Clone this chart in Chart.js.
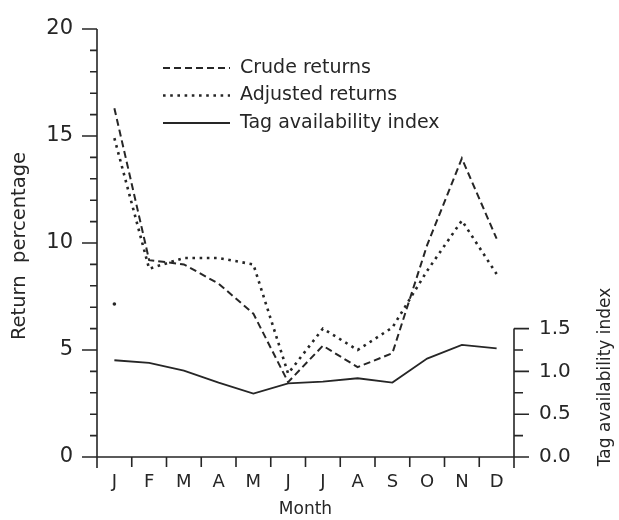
<!DOCTYPE html>
<html>
<head>
<meta charset="utf-8">
<script src="https://cdn.jsdelivr.net/npm/chart.js@4"></script>
<style>
  html, body { margin: 0; padding: 0; background: #fff; }
  #wrap { width: 619px; height: 520px; }
</style>
</head>
<body>
<div id="wrap"><canvas id="chart"></canvas></div>
<script>
// values
const months = ['J', 'F', 'M', 'A', 'M', 'J', 'J', 'A', 'S', 'O', 'N', 'D'];
const crudeReturns = [16.3, 9.2, 9.0, 8.1, 6.7, 3.5, 5.2, 4.2, 4.85, 9.9, 13.95, 10.2];
const adjustedReturns = [14.9, 8.8, 9.3, 9.3, 9.0, 3.9, 6.0, 5.0, 6.05, 8.7, 11.05, 8.55];
const tagIndex = [1.13, 1.10, 1.01, 0.87, 0.74, 0.86, 0.88, 0.92, 0.87, 1.15, 1.31, 1.27];
const strayDot = [7.15, null, null, null, null, null, null, null, null, null, null, null];
const leftTicks = [0, 5, 10, 15, 20];
const rightTicks = [0, 0.5, 1.0, 1.5];

const ink = '#262626';
const font = 'DejaVu Sans';

// axes lines + tick marks, drawn from the scales
const axisPlugin = {
  id: 'axisPlugin',
  beforeDatasetsDraw(chart) {
    const ctx = chart.ctx;
    const y = chart.scales.y, y1 = chart.scales.y1;
    const left = chart.chartArea.left, right = chart.chartArea.right;
    const base = y.getPixelForValue(0);
    ctx.save();
    ctx.strokeStyle = ink;
    ctx.lineWidth = 1.6;
    ctx.beginPath();
    // left axis
    ctx.moveTo(left, y.getPixelForValue(20));
    ctx.lineTo(left, base + 11);
    for (let v = 0; v <= 20; v++) {
      const py = y.getPixelForValue(v);
      ctx.moveTo(left, py);
      ctx.lineTo(left - (v % 5 === 0 ? 15 : 7), py);
    }
    // x axis
    ctx.moveTo(left - 15, base);
    ctx.lineTo(right + 15, base);
    for (let i = 0; i <= months.length; i++) {
      const px = left + (right - left) * i / months.length;
      ctx.moveTo(px, base);
      ctx.lineTo(px, base + 10);
    }
    // right axis, only 0 to 1.5
    ctx.moveTo(right, y1.getPixelForValue(1.5));
    ctx.lineTo(right, base + 11);
    for (let v = 0; v <= 1.5001; v += 0.25) {
      const py = y1.getPixelForValue(v);
      const major = Math.abs(v * 2 - Math.round(v * 2)) < 1e-6;
      ctx.moveTo(right, py);
      ctx.lineTo(right + (major ? 15 : 9), py);
    }
    ctx.stroke();

    // axis titles
    ctx.fillStyle = ink;
    ctx.textAlign = 'center';
    ctx.textBaseline = 'middle';
    ctx.font = '17px "' + font + '"';
    ctx.fillText('Month', (left + right) / 2, 510);
    ctx.save();
    ctx.translate(20, 246);
    ctx.rotate(-Math.PI / 2);
    ctx.font = '19.5px "' + font + '"';
    ctx.fillText('Return  percentage', 0, 0);
    ctx.restore();
    ctx.save();
    ctx.translate(606, 377);
    ctx.rotate(-Math.PI / 2);
    ctx.font = '17px "' + font + '"';
    ctx.fillText('Tag availability index', 0, 0);
    ctx.restore();
    ctx.restore();
  }
};

// legend inside the plot, top left
const legendPlugin = {
  id: 'legendPlugin',
  afterDatasetsDraw(chart) {
    const ctx = chart.ctx;
    ctx.save();
    ctx.font = '19px "' + font + '"';
    ctx.textBaseline = 'middle';
    ctx.fillStyle = ink;
    chart.data.datasets.forEach((ds, i) => {
      if (!ds.label) return;
      const ry = 68 + i * 27.5;
      ctx.strokeStyle = ds.borderColor;
      ctx.lineWidth = ds.borderWidth;
      ctx.setLineDash(ds.borderDash || []);
      ctx.beginPath();
      ctx.moveTo(163, ry);
      ctx.lineTo(230, ry);
      ctx.stroke();
      ctx.fillText(ds.label, 240, ry);
    });
    ctx.restore();
  }
};

new Chart(document.getElementById('chart'), {
  type: 'line',
  data: {
    labels: months,
    datasets: [
      {
        label: 'Crude returns',
        data: crudeReturns,
        yAxisID: 'y',
        borderColor: ink,
        borderWidth: 2,
        borderDash: [7, 4],
        pointRadius: 0,
        tension: 0,
        fill: false
      },
      {
        label: 'Adjusted returns',
        data: adjustedReturns,
        yAxisID: 'y',
        borderColor: ink,
        borderWidth: 2.6,
        borderDash: [2.6, 4.6],
        pointRadius: 0,
        tension: 0,
        fill: false
      },
      {
        label: 'Tag availability index',
        data: tagIndex,
        yAxisID: 'y1',
        borderColor: ink,
        borderWidth: 1.8,
        pointRadius: 0,
        tension: 0,
        fill: false
      },
      {
        label: '',
        data: strayDot,
        yAxisID: 'y',
        showLine: false,
        pointRadius: 1.8,
        pointBackgroundColor: ink,
        pointBorderWidth: 0
      }
    ]
  },
  options: {
    responsive: true,
    maintainAspectRatio: false,
    animation: false,
    layout: { padding: { top: 27, bottom: 0, left: 0, right: 0 } },
    plugins: {
      legend: { display: false },
      tooltip: { enabled: false }
    },
    scales: {
      x: {
        offset: true,
        grid: { display: false },
        border: { display: false },
        ticks: {
          color: ink,
          font: { family: font, size: 18 },
          padding: 7,
          maxRotation: 0
        },
        afterFit(scale) { scale.height = 63; }
      },
      y: {
        position: 'left',
        min: 0,
        max: 20,
        grid: { display: false },
        border: { display: false },
        afterBuildTicks(scale) { scale.ticks = leftTicks.map(v => ({ value: v })); },
        ticks: {
          color: ink,
          font: { family: font, size: 21 },
          padding: 16,
          callback: v => String(v)
        },
        afterFit(scale) { scale.width = 97; }
      },
      y1: {
        position: 'right',
        min: 0,
        max: 5,
        grid: { display: false },
        border: { display: false },
        afterBuildTicks(scale) { scale.ticks = rightTicks.map(v => ({ value: v })); },
        ticks: {
          color: ink,
          font: { family: font, size: 20 },
          padding: 17,
          callback: v => Number(v).toFixed(1)
        },
        afterFit(scale) { scale.width = 105; }
      }
    }
  },
  plugins: [axisPlugin, legendPlugin]
});
</script>
</body>
</html>
